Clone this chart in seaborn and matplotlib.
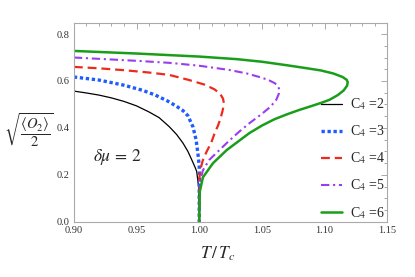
import matplotlib
matplotlib.use("Agg")
import matplotlib.pyplot as plt
from matplotlib.ticker import MultipleLocator
import seaborn as sns
import pandas as pd

# ---- data ----
t_c2 = [0.900, 0.910, 0.920, 0.930, 0.940, 0.950, 0.960, 0.968, 0.976, 0.982, 0.987, 0.991, 0.994, 0.9965, 0.998, 0.9995, 1.000]
v_c2 = [0.557, 0.549, 0.540, 0.528, 0.513, 0.494, 0.468, 0.444, 0.406, 0.372, 0.336, 0.300, 0.265, 0.235, 0.215, 0.150, 0.000]

t_c3 = [0.900, 0.920, 0.940, 0.955, 0.965, 0.975, 0.982, 0.987, 0.991, 0.995, 0.9975, 0.9990, 1.0000, 1.0003, 1.0000, 1.0000]
v_c3 = [0.617, 0.604, 0.582, 0.560, 0.540, 0.514, 0.492, 0.474, 0.452, 0.405, 0.350, 0.290, 0.240, 0.190, 0.140, 0.000]

t_c4 = [0.900, 0.920, 0.940, 0.960, 0.976, 0.992, 1.004, 1.012, 1.0165, 1.019, 1.0195, 1.0195, 1.0185, 1.017, 1.015, 1.0125, 1.0095, 1.006, 1.003, 1.001, 1.0002, 1.000]
v_c4 = [0.660, 0.654, 0.646, 0.636, 0.626, 0.604, 0.585, 0.565, 0.547, 0.525, 0.510, 0.495, 0.470, 0.440, 0.410, 0.380, 0.336, 0.300, 0.264, 0.225, 0.190, 0.000]

t_c5 = [0.900, 0.953, 0.977, 1.000, 1.024, 1.038, 1.048, 1.055, 1.0605, 1.0632, 1.064, 1.0635, 1.0615, 1.0568, 1.050, 1.040, 1.031, 1.022, 1.015, 1.008, 1.003, 1.0005, 1.000]
v_c5 = [0.700, 0.685, 0.677, 0.665, 0.647, 0.632, 0.617, 0.605, 0.590, 0.575, 0.560, 0.545, 0.520, 0.490, 0.460, 0.420, 0.380, 0.336, 0.300, 0.264, 0.220, 0.170, 0.000]

t_c6 = [0.900, 0.950, 1.000, 1.030, 1.050, 1.070, 1.085, 1.097, 1.107, 1.1144, 1.1177, 1.1185, 1.118, 1.1153, 1.1106, 1.104, 1.098, 1.090, 1.080, 1.070, 1.060, 1.050, 1.040, 1.022, 1.011, 1.003, 1.0005, 1.000]
v_c6 = [0.728, 0.717, 0.704, 0.693, 0.682, 0.667, 0.655, 0.645, 0.632, 0.617, 0.605, 0.595, 0.580, 0.560, 0.540, 0.520, 0.508, 0.494, 0.477, 0.458, 0.437, 0.410, 0.378, 0.306, 0.250, 0.190, 0.130, 0.000]

labels = ["C$_4$ =2", "C$_4$ =3", "C$_4$ =4", "C$_4$ =5", "C$_4$ =6"]
x_ticks = [0.90, 0.95, 1.00, 1.05, 1.10, 1.15]
y_ticks = [0.0, 0.2, 0.4, 0.6, 0.8]

sns.set_theme(style="white")
plt.rcParams["font.family"] = ["Liberation Serif", "DejaVu Serif"]
plt.rcParams["mathtext.fontset"] = "stix"

fig = plt.figure(figsize=(4.15, 2.77), dpi=100)
ax = fig.add_axes([0.178, 0.199, 0.755, 0.718])

styles = [
    dict(color="black", lw=0.9, linestyle="-"),
    dict(color="#1f5cff", lw=2.4, linestyle=(0, (1.0, 0.8))),
    dict(color="#ee2a1e", lw=1.6, linestyle=(0, (4.0, 2.2))),
    dict(color="#9a3cf0", lw=1.5, linestyle=(0, (4.0, 1.8, 1.0, 1.8))),
    dict(color="#1a9e1a", lw=1.8, linestyle="-"),
]
series = [(t_c2, v_c2), (t_c3, v_c3), (t_c4, v_c4), (t_c5, v_c5), (t_c6, v_c6)]
for (t, v), lab, st in zip(series, labels, styles):
    df = pd.DataFrame({"T": t, "v": v})
    sns.lineplot(data=df, x="T", y="v", sort=False, estimator=None, ax=ax,
                 label=lab, **st)

ax.set_xlim(0.90, 1.15)
ax.set_ylim(0.0, 0.847)
ax.set_xticks(x_ticks)
ax.set_yticks(y_ticks)
ax.set_xticklabels([f"{x:.2f}" for x in x_ticks])
ax.set_yticklabels([f"{y:.1f}" for y in y_ticks])
ax.xaxis.set_minor_locator(MultipleLocator(0.01))
ax.yaxis.set_minor_locator(MultipleLocator(0.05))
ax.tick_params(which="both", direction="in", top=True, right=True,
               color="#999999", labelsize=7.5, labelcolor="#333333", width=0.6)
ax.tick_params(which="major", length=4, pad=3)
ax.tick_params(which="minor", length=2)
for s in ax.spines.values():
    s.set_color("#aaaaaa")
    s.set_linewidth(0.8)
ax.set_xlabel("")
ax.set_ylabel("")

ax.text(0.915, 0.277, r"$\delta\mu\,=\,2$", fontsize=12.5, va="center", ha="left")
fig.text(218 / 415, 1 - 254 / 277, r"$T\,/\,T_c$", fontsize=12.5, ha="center", va="center")
fig.text(4 / 415, 1 - 130 / 277, r"$\sqrt{\dfrac{\langle O_2\rangle}{2}}$",
         fontsize=10.5, ha="left", va="center")

leg = ax.legend(loc="center left", bbox_to_anchor=(321 / 415, 1 - 158.5 / 277),
                bbox_transform=fig.transFigure, frameon=False, fontsize=10,
                handlelength=1.5, handletextpad=0.6, labelspacing=0.81,
                borderpad=0, borderaxespad=0)

fig.savefig("out.png", dpi=100)
